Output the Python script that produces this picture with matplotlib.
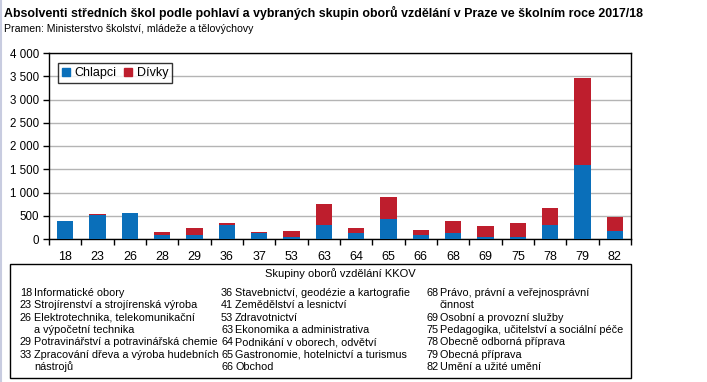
import matplotlib
matplotlib.use("Agg")
import matplotlib.pyplot as plt
from matplotlib.patches import Rectangle, Patch
from matplotlib.lines import Line2D

# KKOV group codes on the x axis
codes = ["18", "23", "26", "28", "29", "36", "37", "53", "63",
         "64", "65", "66", "68", "69", "75", "78", "79", "82"]
chlapci = [380, 509, 552, 79, 93, 294, 129, 36, 308,
           122, 437, 79, 136, 50, 36, 294, 1599, 179]
divky = [14, 21, 14, 79, 151, 43, 14, 143, 452,
         122, 473, 121, 258, 237, 301, 380, 1871, 301]
yticks = [0, 500, 1000, 1500, 2000, 2500, 3000, 3500, 4000]

# legend text of the code list, three columns
col1 = [("18", "Informatické obory"),
        ("23", "Strojírenství a strojírenská výroba"),
        ("26", "Elektrotechnika, telekomunikační\na výpočetní technika"),
        ("29", "Potravinářství a potravinářská chemie"),
        ("33", "Zpracování dřeva a výroba hudebních\nnástrojů")]
col2 = [("36", "Stavebnictví, geodézie a kartografie"),
        ("41", "Zemědělství a lesnictví"),
        ("53", "Zdravotnictví"),
        ("63", "Ekonomika a administrativa"),
        ("64", "Podnikání v oborech, odvětví"),
        ("65", "Gastronomie, hotelnictví a turismus"),
        ("66", "Obchod")]
col3 = [("68", "Právo, právní a veřejnosprávní\nčinnost"),
        ("69", "Osobní a provozní služby"),
        ("75", "Pedagogika, učitelství a sociální péče"),
        ("78", "Obecně odborná příprava"),
        ("79", "Obecná příprava"),
        ("82", "Umění a užité umění")]

BLUE = "#0a6fba"
RED = "#be1e2d"
W, H = 707, 382

plt.rcParams["font.family"] = ["Liberation Sans", "DejaVu Sans"]


def fx(px):
    return px / W


def fy(py):
    return 1 - py / H


fig = plt.figure(figsize=(W / 100, H / 100), dpi=100)
ax = fig.add_axes([fx(49), fy(239), (631 - 49) / W, (239 - 53) / H])

x = list(range(len(codes)))
ax.bar(x, chlapci, width=0.5, color=BLUE, zorder=3)
ax.bar(x, divky, width=0.5, bottom=chlapci, color=RED, zorder=3)

ax.set_xlim(-0.5, len(codes) - 0.5)
ax.set_ylim(0, 4000)
ax.set_yticks(yticks)
ax.set_yticklabels([f"{v:,}".replace(",", " ") for v in yticks], fontsize=8.3)
ax.set_xticks(x)
ax.set_xticklabels(codes, fontsize=9)
ax.set_xticks([i - 0.5 for i in range(len(codes) + 1)], minor=True)
ax.tick_params(axis="x", which="major", length=0, pad=9)
ax.tick_params(axis="x", which="minor", length=4, width=1, color="black")
ax.tick_params(axis="y", length=4, width=1, pad=3)
ax.grid(axis="y", color="#b4b4b4", lw=1, zorder=0)
for s in ax.spines.values():
    s.set_color("black")
    s.set_linewidth(1)

handles = [Patch(color=BLUE, label="Chlapci"), Patch(color=RED, label="Dívky")]
leg = ax.legend(handles=handles, loc="upper left", bbox_to_anchor=(0.015, 0.948),
                ncol=2, fontsize=9, frameon=True, fancybox=False,
                handlelength=0.6, handleheight=0.6, handletextpad=0.4,
                columnspacing=0.6, borderpad=0.35, borderaxespad=0)
leg.get_frame().set_edgecolor("black")
leg.get_frame().set_linewidth(1)

# titles
fig.text(fx(4), fy(13), "Absolventi středních škol podle pohlaví a vybraných skupin oborů "
         "vzdělání v Praze ve školním roce 2017/18",
         fontsize=8.9, fontweight="bold", va="center", ha="left")
fig.text(fx(4), fy(29), "Pramen: Ministerstvo školství, mládeže a tělovýchovy",
         fontsize=7.6, va="center", ha="left")

# code list box
fig.add_artist(Rectangle((fx(10), fy(378)), (631 - 10) / W, (378 - 264) / H,
                         transform=fig.transFigure, fill=False,
                         edgecolor="black", lw=1))
fig.text(fx(340), fy(274), "Skupiny oborů vzdělání KKOV", fontsize=8,
         ha="center", va="center")

line_h = 12.3
for col, xn, xt in ((col1, 20, 34), (col2, 221, 235), (col3, 426, 440)):
    row = 0
    for code, name in col:
        y = 293 + row * line_h
        fig.text(fx(xn), fy(y), code, fontsize=7.8, ha="left", va="center")
        for k, part in enumerate(name.split("\n")):
            fig.text(fx(xt), fy(y + k * line_h), part, fontsize=7.8,
                     ha="left", va="center")
        row += name.count("\n") + 1

# faint left border
fig.add_artist(Line2D([fx(0.5), fx(0.5)], [0, 1], transform=fig.transFigure,
                      color="#c8cce0", lw=1.5))

fig.savefig("out.png", dpi=100)
